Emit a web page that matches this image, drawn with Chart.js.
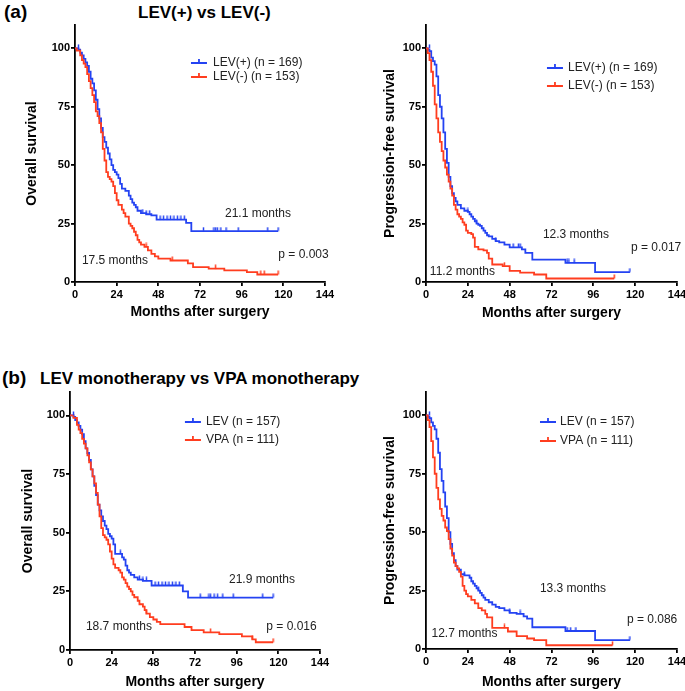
<!DOCTYPE html>
<html><head><meta charset="utf-8">
<script src="https://cdn.jsdelivr.net/npm/chart.js@4.4.1/dist/chart.umd.min.js"></script>
<style>
html,body{margin:0;padding:0;background:#fff;overflow:hidden;}
body{width:685px;height:691px;position:relative;font-family:"Liberation Sans",Arial,Helvetica,sans-serif;}
.t{position:absolute;font-weight:bold;color:#000;line-height:1;white-space:nowrap;}
canvas{position:absolute;}
</style></head><body>
<div class="t" style="left:4px;top:2px;font-size:19px">(a)</div>
<div class="t" style="left:138px;top:3.5px;font-size:17px">LEV(+) vs LEV(-)</div>
<div class="t" style="left:2px;top:368px;font-size:19px">(b)</div>
<div class="t" style="left:40px;top:369.5px;font-size:17px">LEV monotherapy vs VPA monotherapy</div>
<canvas id="a1" width="340" height="330" style="left:0;top:0"></canvas>
<canvas id="a2" width="345" height="330" style="left:340px;top:0"></canvas>
<canvas id="b1" width="340" height="331" style="left:0;top:360px"></canvas>
<canvas id="b2" width="345" height="331" style="left:340px;top:360px"></canvas>
<script>
// ---------- tick labels ----------
const monthTicks = [0, 24, 48, 72, 96, 120, 144];
const survivalTicks = [0, 25, 50, 75, 100];

// ---------- (a) overall survival ----------
const osLevPlusMonths = [0,2,3,4,5,6,7,8,9,10,11,12,13,14,15,16,17,18,19,20,21,22,23,24,25,26,27,29,31,32,33,34,35,36,38,41,44,47,64,67,117];
const osLevPlusSurv   = [100,99.4,98.2,97,95.5,94,92.5,90,87,85,82,78,74,70,66,62,60,57.5,55,52.5,50,48,47,46,44.5,42,40,39,37,35.5,34,33,32,30.5,29.5,29,28.5,26.7,25.3,21.8,21.8];
const osLevPlusCensorMonths = [2,39,41,43,49,51,53,55,57,59,61,63,74,80,81,82,84,87,94,111,117];
const osLevPlusCensorSurv   = [100,29.5,29,29,26.7,26.7,26.7,26.7,26.7,26.7,26.7,26.7,21.8,21.8,21.8,21.8,21.8,21.8,21.8,21.8,21.8];
const osLevMinusMonths = [0,1,3,4,5,6,7,8,9,10,11,12,13,14,15,16,17,18,19,20,21,22,23,24,25,27,28,29,31,32,33,34,35,36,37,38,40,42,44,46,48,55,65,68,77,86,99,105,117];
const osLevMinusSurv   = [100,99,97,95,93.5,92,89,86,83,80,77,73,71,68,64,57,52,47,45,44,43,41,38,35,33,31,29.5,28,25,24,23,21.5,20,18,17,16,15,13.5,12,11,10,9.2,8,6.4,5.7,5,4.2,3.2,3.2];
const osLevMinusCensorMonths = [41,56,81,107,109,117];
const osLevMinusCensorSurv   = [15,9.2,5.7,3.2,3.2,3.2];

// ---------- (a) progression-free survival ----------
const pfsLevPlusMonths = [0,1,2,3,4,5,6,7,8,9,10,11,12,13,14,15,16,17,18,20,22,24,25,26,27,28,29,30,31,32,33,34,35,36,38,40,42,45,48,55,57,61,80,97,117];
const pfsLevPlusSurv   = [100,99.4,98.8,96,94.5,93,88,80,75,70,64,57,51,45,41,38,36,34.5,33,31.5,30.5,30,29,28,27,26,25,24.5,24,23,22,21,20,19.5,18.5,17.5,17,16,14.8,14,12.5,9.6,8.2,4.2,4.2];
const pfsLevPlusCensorMonths = [2,24,29,40,50,53,54,81,82,85,117];
const pfsLevPlusCensorSurv   = [100,30,25,17.5,14.8,14.8,14.8,8.2,8.2,8.2,4.2];
const pfsLevMinusMonths = [0,1,2,3,4,5,6,7,8,9,10,11,12,13,14,15,16,17,18,19,20,21,22,23,24,26,27,28,30,33,35,36,38,44,48,54,62,69,108];
const pfsLevMinusSurv   = [100,98,95,90,84,76,70,64,60,56,52,49,46,43,40,37,33,31,29,28,27,25.5,24.5,22,21,20.5,19,15,14,13.5,12.5,10,7.5,6.8,4.8,4,3.2,1.5,1.5];
const pfsLevMinusCensorMonths = [45,108];
const pfsLevMinusCensorSurv   = [6.8,1.5];

// ---------- (b) overall survival ----------
const osLevMonoMonths = [0,2,3,4,5,6,7,8,9,10,11,12,13,14,15,16,17,18,19,20,21,22,23,24,25,26,30,31,32,33,34,35,37,39,42,47,65,68,117];
const osLevMonoSurv   = [100,99.4,98,97,95.5,94,92,89,86,84,81,77,74,70,66,62,59.5,57,55,53,51.5,49.5,48.5,47.5,45,41,39.5,38.5,36,34,33,32,31,30,29.5,27.5,25,22.3,22.3];
const osLevMonoCensorMonths = [2,29,40,42,44,49,51,53,55,57,59,61,63,75,80,81,83,85,88,94,111,117];
const osLevMonoCensorSurv   = [100,41,30,29.5,29.5,27.5,27.5,27.5,27.5,27.5,27.5,27.5,27.5,22.3,22.3,22.3,22.3,22.3,22.3,22.3,22.3,22.3];
const osVpaMonoMonths = [0,2,4,5,6,7,8,9,10,11,12,13,14,15,16,17,18,19,20,21,22,23,24,25,26,28,29,30,31,32,33,34,35,36,37,39,40,42,43,44,46,48,50,52,66,70,77,86,99,105,107,117];
const osVpaMonoSurv   = [100,99,96,94,92.5,90,88,86,83,80,77,74,71,67,62,57,52,49,48,47,45,42,39,36.5,35,34,33,31,30,28.5,27,26,25,23.5,22.5,21,19.5,18.5,17,15.5,14,13,12,11,9.8,8.5,7.5,6.8,5.8,4.5,3.3,3.3];
const osVpaMonoCensorMonths = [44,81,105,117];
const osVpaMonoCensorSurv   = [15.5,7.5,4.5,3.3];

// ---------- (b) progression-free survival ----------
const pfsLevMonoMonths = [0,1,2,3,4,5,6,7,8,9,10,11,12,13,14,15,16,17,18,20,22,25,26,27,28,29,30,31,32,33,34,36,38,40,42,45,48,52,56,58,61,80,97,117];
const pfsLevMonoSurv   = [100,99.4,98.8,97,95.5,94,90,84,77,72,67,61,56,50,45,41,38,35.5,34,32,31.5,30.5,29,28,27,26,25,24,23,22,21,20,19,18,17.5,16.5,15.5,15,14,13,9.3,7.7,3.8,3.8];
const pfsLevMonoCensorMonths = [2,22,30,48,54,81,83,86,117];
const pfsLevMonoCensorSurv   = [100,31.5,25,15.5,15,7.7,7.7,7.7,3.8];
const pfsVpaMonoMonths = [0,1,2,3,4,5,6,7,8,9,10,11,12,13,14,15,16,17,18,19,20,21,22,23,24,26,28,30,32,34,35,38,47,52,58,62,69,107];
const pfsVpaMonoSurv   = [100,98,95,89,82,75,69,64,60,57,55,52,50.5,47,43,40,37,35.5,34.5,33,31,27,25,23.5,22.5,21,19.5,17.5,16.5,15,13.5,9,7.5,5.5,4.5,3.8,1.6,1.6];
const pfsVpaMonoCensorMonths = [45,107];
const pfsVpaMonoCensorSurv   = [9,1.6];

// ---------- drawing ----------
const BLUE = '#2443F2', RED = '#FF3D1F';
const FONT = '"Liberation Sans", Arial, Helvetica, sans-serif';

function zip(xs, ys){ return xs.map((x,i)=>({x:x, y:ys[i]})); }
function tickImage(color){
  const c = document.createElement('canvas');
  c.width = 3; c.height = 9;
  const g = c.getContext('2d');
  g.strokeStyle = color; g.lineWidth = 1.5;
  g.beginPath(); g.moveTo(1.5, 0.5); g.lineTo(1.5, 4.5); g.stroke();
  return c;
}
const blueTick = tickImage(BLUE), redTick = tickImage(RED);

const notesPlugin = {
  id: 'notes',
  afterDatasetsDraw(chart, args, o){
    const ctx = chart.ctx, xs = chart.scales.x, ys = chart.scales.y;
    ctx.save();
    ctx.font = '12px ' + FONT;
    ctx.textBaseline = 'middle';
    (o.notes || []).forEach(n => {
      ctx.fillStyle = '#222'; ctx.textAlign = 'center';
      ctx.fillText(n.text, xs.getPixelForValue(n.x), ys.getPixelForValue(n.y));
    });
    const L = o.legend;
    if (L) {
      L.items.forEach((it, i) => {
        const x0 = xs.getPixelForValue(L.x), y = Math.round(ys.getPixelForValue(L.y[i]));
        ctx.strokeStyle = it.color; ctx.lineWidth = 1.8;
        ctx.beginPath(); ctx.moveTo(x0, y); ctx.lineTo(x0 + 16, y);
        ctx.moveTo(x0 + 8, y); ctx.lineTo(x0 + 8, y - 4); ctx.stroke();
        ctx.fillStyle = '#222'; ctx.textAlign = 'left';
        ctx.fillText(it.text, xs.getPixelForValue(L.tx), y);
      });
    }
    ctx.restore();
  }
};

function panel(id, p){
  const g = p.geom;
  const axisCommon = {
    grid: {display: true, drawOnChartArea: false, drawTicks: true, tickLength: 4, color: '#000', lineWidth: 1.8},
    border: {display: true, color: '#000', width: 1.8},
  };
  new Chart(document.getElementById(id), {
    type: 'line',
    data: { datasets: [
      {data: zip(p.blueC[0], p.blueC[1]), showLine: false, pointStyle: blueTick, pointRadius: 3, order: 0},
      {data: zip(p.redC[0], p.redC[1]), showLine: false, pointStyle: redTick, pointRadius: 3, order: 0},
      {data: zip(p.red[0], p.red[1]), borderColor: RED, borderWidth: 1.8, stepped: true, pointRadius: 0, fill: false, order: 1},
      {data: zip(p.blue[0], p.blue[1]), borderColor: BLUE, borderWidth: 1.8, stepped: true, pointRadius: 0, fill: false, order: 2}
    ]},
    options: {
      responsive: false, animation: false,
      layout: {padding: {top: g.top, right: g.right, left: 0, bottom: 0}},
      plugins: {legend: {display: false}, tooltip: {enabled: false},
        notes: {notes: p.notes, legend: p.legend}},
      scales: {
        x: Object.assign({
          type: 'linear', min: 0, max: 144,
          afterBuildTicks: s => { s.ticks = monthTicks.map(v => ({value: v})); },
          afterFit: s => { s.height = g.xh; s.paddingLeft = 0; s.paddingRight = 0; },
          ticks: {color: '#000', font: {family: FONT, size: 11, weight: 'bold'}, padding: 2, maxRotation: 0, autoSkip: false},
          title: {display: true, text: 'Months after surgery', color: '#000', font: {family: FONT, size: 14, weight: 'bold'}, padding: {top: 0, bottom: g.xtp}}
        }, axisCommon),
        y: Object.assign({
          type: 'linear', min: 0, max: 110,
          afterBuildTicks: s => { s.ticks = survivalTicks.map(v => ({value: v})); },
          afterFit: s => { s.width = g.left; },
          ticks: {color: '#000', font: {family: FONT, size: 11, weight: 'bold'}, padding: 1},
          title: {display: true, text: p.yTitle, color: '#000', font: {family: FONT, size: 14, weight: 'bold'}, padding: {top: g.ytp, bottom: 0}}
        }, axisCommon)
      }
    },
    plugins: [notesPlugin]
  });
}

panel('a1', {
  geom: {top: 25, right: 15, left: 75, xh: 48, xtp: 9.6, ytp: 23.6},
  yTitle: 'Overall survival',
  blue: [osLevPlusMonths, osLevPlusSurv], blueC: [osLevPlusCensorMonths, osLevPlusCensorSurv],
  red: [osLevMinusMonths, osLevMinusSurv], redC: [osLevMinusCensorMonths, osLevMinusCensorSurv],
  notes: [{text: '21.1 months', x: 105.4, y: 29.1}, {text: '17.5 months', x: 23, y: 9}, {text: 'p = 0.003', x: 131.6, y: 11.6}],
  legend: {x: 66.8, tx: 79.5, y: [93.6, 87.6], items: [{color: BLUE, text: 'LEV(+) (n = 169)'}, {color: RED, text: 'LEV(-) (n = 153)'}]}
});
panel('a2', {
  geom: {top: 25, right: 8, left: 86, xh: 48, xtp: 8.6, ytp: 41.6},
  yTitle: 'Progression-free survival',
  blue: [pfsLevPlusMonths, pfsLevPlusSurv], blueC: [pfsLevPlusCensorMonths, pfsLevPlusCensorSurv],
  red: [pfsLevMinusMonths, pfsLevMinusSurv], redC: [pfsLevMinusCensorMonths, pfsLevMinusCensorSurv],
  notes: [{text: '12.3 months', x: 86, y: 20.1}, {text: 'p = 0.017', x: 132, y: 14.6}, {text: '11.2 months', x: 20.9, y: 4.3}],
  legend: {x: 69.4, tx: 81.5, y: [91.6, 83.9], items: [{color: BLUE, text: 'LEV(+) (n = 169)'}, {color: RED, text: 'LEV(-) (n = 153)'}]}
});
panel('b1', {
  geom: {top: 32, right: 20, left: 70, xh: 41, xtp: 0.6, ytp: 19.6},
  yTitle: 'Overall survival',
  blue: [osLevMonoMonths, osLevMonoSurv], blueC: [osLevMonoCensorMonths, osLevMonoCensorSurv],
  red: [osVpaMonoMonths, osVpaMonoSurv], redC: [osVpaMonoCensorMonths, osVpaMonoCensorSurv],
  notes: [{text: '21.9 months', x: 110.6, y: 29.9}, {text: '18.7 months', x: 28.2, y: 9.8}, {text: 'p = 0.016', x: 127.6, y: 9.8}],
  legend: {x: 66.2, tx: 78.3, y: [97.2, 89.6], items: [{color: BLUE, text: 'LEV (n = 157)'}, {color: RED, text: 'VPA (n = 111)'}]}
});
panel('b2', {
  geom: {top: 32, right: 8, left: 86, xh: 42, xtp: 0.6, ytp: 41.6},
  yTitle: 'Progression-free survival',
  blue: [pfsLevMonoMonths, pfsLevMonoSurv], blueC: [pfsLevMonoCensorMonths, pfsLevMonoCensorSurv],
  red: [pfsVpaMonoMonths, pfsVpaMonoSurv], redC: [pfsVpaMonoCensorMonths, pfsVpaMonoCensorSurv],
  notes: [{text: '13.3 months', x: 84.3, y: 25.7}, {text: 'p = 0.086', x: 129.7, y: 12.5}, {text: '12.7 months', x: 22.1, y: 6.4}],
  legend: {x: 65.4, tx: 76.9, y: [97.2, 89], items: [{color: BLUE, text: 'LEV (n = 157)'}, {color: RED, text: 'VPA (n = 111)'}]}
});
</script>
</body></html>
